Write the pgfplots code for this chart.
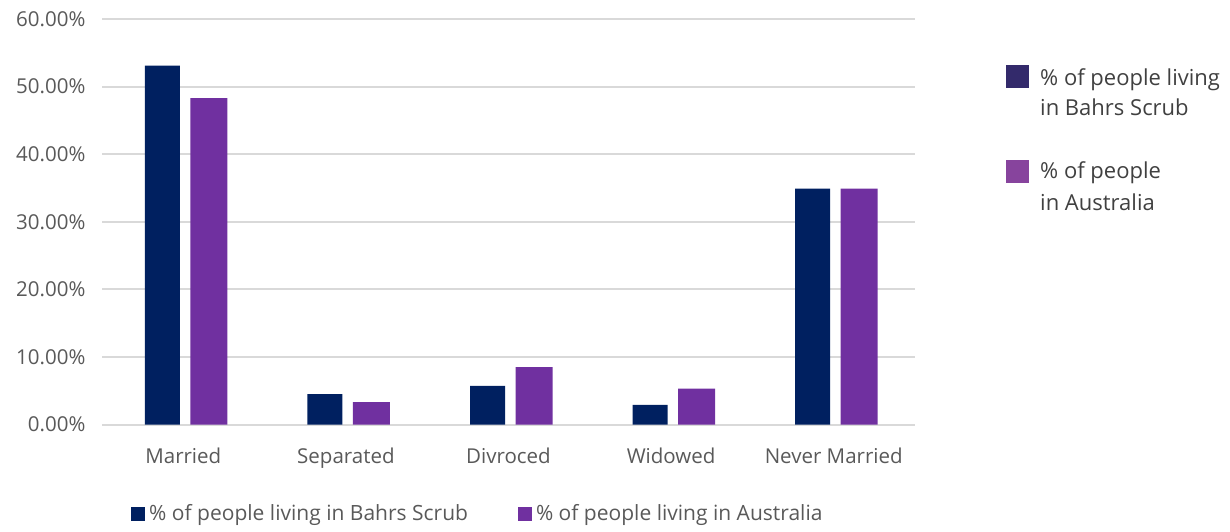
\documentclass[border=0pt]{standalone}
\usepackage{pgfplots}
\pgfplotsset{compat=1.18}
\usepackage{fontspec}
\setmainfont{Open Sans}
\definecolor{dark}{HTML}{002060}
\definecolor{purp}{HTML}{7030A0}
\definecolor{gridc}{HTML}{D9D9D9}
\definecolor{txt}{HTML}{595959}
\definecolor{ldark}{HTML}{332A6B}
\definecolor{lpurp}{HTML}{87449D}
\definecolor{ltxt}{HTML}{404040}
\begin{document}
\begin{tikzpicture}[x=1pt,y=1pt]
\path[use as bounding box] (0,0) rectangle (1230,-531);
\begin{axis}[
  at={(102pt,-424.5pt)}, anchor=south west,
  scale only axis, width=813pt, height=405.5pt,
  xmin=-0.5, xmax=4.5, ymin=0, ymax=60,
  xtick={0,1,2,3,4},
  xticklabels={Married,Separated,Divroced,Widowed,Never Married},
  ytick={0,10,20,30,40,50,60},
  yticklabel={\pgfmathprintnumber[fixed,fixed zerofill,precision=2]{\tick}\%},
  /pgf/number format/assume math mode=true,
  ymajorgrids, grid style={gridc, line width=2pt},
  axis line style={draw=none}, major tick length=0pt,
  tick label style={text=txt},
  yticklabel style={font=\fontsize{20.5}{22}\selectfont, xshift=-13pt},
  xticklabel style={font=\fontsize{20.5}{24}\selectfont, yshift=-20pt},
  clip=false,
  legend style={at={(0.0357,-0.2195)}, anchor=west, draw=none, fill=none,
    font=\fontsize{21}{24}\selectfont, text=txt, inner sep=0pt,
    nodes={inner xsep=4pt},
    /tikz/every even column/.append style={column sep=46pt}},
  legend columns=2,
  legend cell align=left,
  legend image code/.code={\fill[#1] (0pt,-7pt) rectangle (14pt,7pt);},
]
\addplot[ybar, bar width=35pt, bar shift=-21pt, fill=dark, draw=none]
  coordinates {(0,53.1) (1,4.5) (2,5.7) (3,2.9) (4,34.9)};
\addplot[ybar, bar width=37pt, bar shift=25.5pt, fill=purp, draw=none]
  coordinates {(0,48.3) (1,3.3) (2,8.5) (3,5.3) (4,34.9)};
\legend{\% of people living in Bahrs Scrub, \% of people living in Australia}
\end{axis}
\fill[ldark] (1006,-65) rectangle (1029,-88);
\fill[lpurp] (1006,-160) rectangle (1029,-183);
\begin{scope}[every node/.style={anchor=base west, inner sep=0pt, text=ltxt, font=\fontsize{22}{25}\selectfont}]
\node at (1040,-85) {\% of people living};
\node at (1040,-115) {in Bahrs Scrub};
\node at (1040,-178) {\% of people};
\node at (1040,-210) {in Australia};
\end{scope}
\end{tikzpicture}
\end{document}
